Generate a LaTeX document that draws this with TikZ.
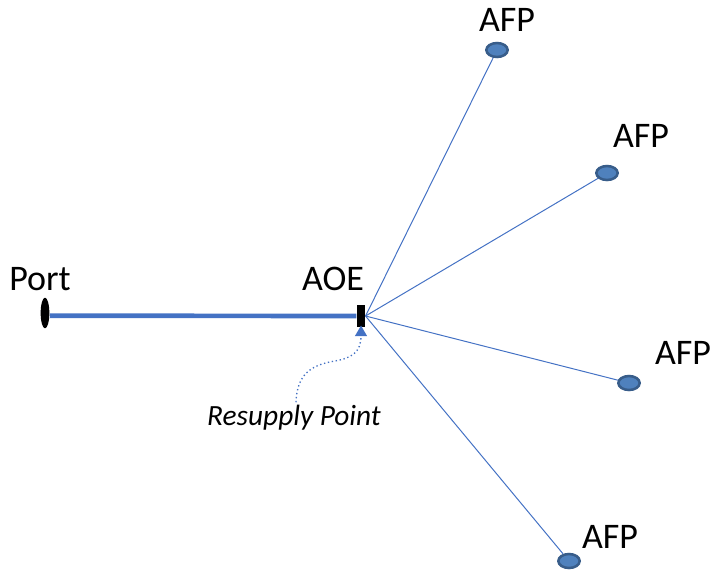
\documentclass[tikz,border=0pt]{standalone}
\usepackage{fontspec}
\setmainfont{Carlito}
\usepackage{xcolor}
\usetikzlibrary{shapes.geometric, arrows.meta, positioning}
\definecolor{lineblue}{RGB}{68,114,196}
\definecolor{afpfill}{RGB}{79,129,189}
\definecolor{afpedge}{RGB}{56,93,138}

\begin{document}
\begin{tikzpicture}[x=0.75pt, y=-0.75pt, thick]
    \useasboundingbox (0,0) rectangle (710,569);
    \tikzset{
        afp/.style={draw=afpedge, line width=1.9pt, ellipse, fill=afpfill, inner sep=0pt, minimum width=16pt, minimum height=10.5pt},
        tag/.style={font=\fontsize{27}{32}\selectfont, inner sep=0pt},
        spoke/.style={draw=lineblue, line width=0.75pt}
    }

    % --- PORT AND AOE ---
    \node (port) [fill=black, ellipse, inner sep=0pt, minimum width=6.5pt, minimum height=23pt] at (45,313) {};
    \node (aoe) [fill=black, rectangle, inner sep=0pt, minimum width=6pt, minimum height=16.5pt] at (361,316) {};
    \node (portlbl) [tag] at (40,279) {Port};
    \node (aoelbl) [tag] at (333,279) {AOE};

    % Main line
    \draw[lineblue, line width=3.5pt] ([yshift=-2pt]port.east) -- (aoe.west);

    % --- AFP NODES ---
    \node (afp1) [afp] at (497,50) {};
    \node (afp2) [afp] at (607,173) {};
    \node (afp3) [afp] at (629,383) {};
    \node (afp4) [afp] at (569,561) {};
    \node (afplbl1) [tag] at (507,20) {AFP};
    \node (afplbl2) [tag] at (641,136) {AFP};
    \node (afplbl3) [tag] at (683,353) {AFP};
    \node (afplbl4) [tag] at (610,537) {AFP};

    % Spokes
    \draw[spoke] (aoe.east) -- (afp1);
    \draw[spoke] (aoe.east) -- (afp2);
    \draw[spoke] (aoe.east) -- (afp3);
    \draw[spoke] (aoe.east) -- (afp4);

    % --- RESUPPLY POINT ---
    \node (rsp) [font=\fontsize{22}{26}\itshape, inner sep=0pt] at (294,418) {Resupply Point};
    \draw[lineblue, dotted, line width=1pt, shorten >=-1.5pt, -{Triangle[length=8pt, width=9pt]}]
        ([xshift=1.5pt, yshift=2pt]rsp.north) .. controls (297,375) and (310,365) .. (335,361)
        .. controls (352,358) and (361,352) .. (aoe.south);

\end{tikzpicture}
\end{document}
